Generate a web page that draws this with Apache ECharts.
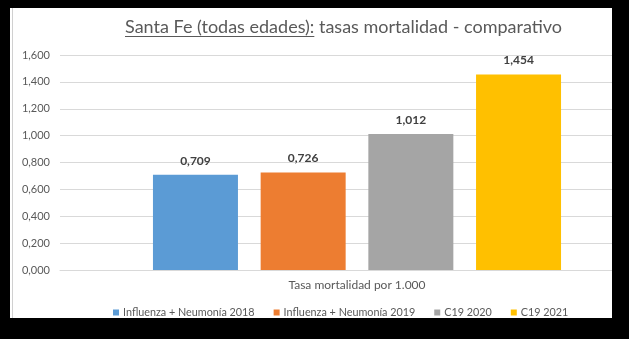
<!DOCTYPE html>
<html><head><meta charset="utf-8">
<script src="https://cdn.jsdelivr.net/npm/echarts@6/dist/echarts.min.js"></script>
<style>
html,body{margin:0;padding:0;background:#000;width:629px;height:339px;overflow:hidden}
#w{position:absolute;left:10px;top:8px;width:602px;height:310px;background:#fff;overflow:hidden}
#c{position:absolute;left:0;top:0;width:720px;height:310px}
</style></head><body><div id="w"><div id="c"></div></div>
<script>
const categories = ['Tasa mortalidad por 1.000'];
const seriesNames = ['Influenza + Neumonía 2018','Influenza + Neumonía 2019','C19 2020','C19 2021'];
const seriesValues = [0.709, 0.726, 1.012, 1.454];
const colors = ['#5b9bd5','#ed7d31','#a5a5a5','#ffc000'];
const titleMain = 'Santa Fe (todas edades):';
const titleRest = ' tasas mortalidad - comparativo';

const FONT = 'Lato';
const fmt = v => Number(v).toFixed(3).replace('.', ',');

const chart = echarts.init(document.getElementById('c'), null, {renderer:'canvas'});

const ctx = document.createElement('canvas').getContext('2d');
const TFS = 18;
ctx.font = TFS + 'px ' + FONT;
const wMain = ctx.measureText(titleMain).width;
const tx = 115;

chart.setOption({
  animation:false,
  backgroundColor:'#fff',
  textStyle:{fontFamily:FONT},
  grid:{left:50, top:47, width:594, height:215, containLabel:false},
  xAxis:{type:'category', data:categories,
    axisLine:{lineStyle:{color:'#d9d9d9'}}, axisTick:{show:false},
    axisLabel:{color:'#595959', fontSize:12, margin:9, fontFamily:FONT}},
  yAxis:{type:'value', min:0, max:1.6, interval:0.2,
    axisLine:{show:false}, axisTick:{show:false},
    splitLine:{lineStyle:{color:'#d9d9d9'}},
    axisLabel:{color:'#595959', fontSize:11, margin:10, formatter:fmt, fontFamily:FONT}},
  legend:{left:103, top:299, padding:0, icon:'rect', itemWidth:6, itemHeight:6, itemGap:19,
    textStyle:{color:'#595959', fontSize:10.8, fontFamily:FONT, padding:[0,0,0,-1]},
    data:seriesNames},
  series: seriesNames.map((n,i)=>({
    name:n, type:'bar', barWidth:85, barGap:'26.7%',
    itemStyle:{color:colors[i]},
    data:[seriesValues[i]],
    label:{show:true, position:'top', distance:8, formatter:p=>fmt(p.value),
      color:'#404040', fontWeight:'bold', fontSize:12, fontFamily:FONT}
  })),
  graphic:[
    {type:'text', left:tx, top:10, style:{text:titleMain+titleRest, font:TFS+'px '+FONT, fill:'#595959'}},
    {type:'line', shape:{x1:tx, y1:28.5, x2:tx+wMain, y2:28.5}, style:{stroke:'#595959', lineWidth:1}},
    {type:'line', shape:{x1:2.5, y1:0, x2:2.5, y2:310}, style:{stroke:'#d0d0d0', lineWidth:1}}
  ]
});
</script></body></html>
